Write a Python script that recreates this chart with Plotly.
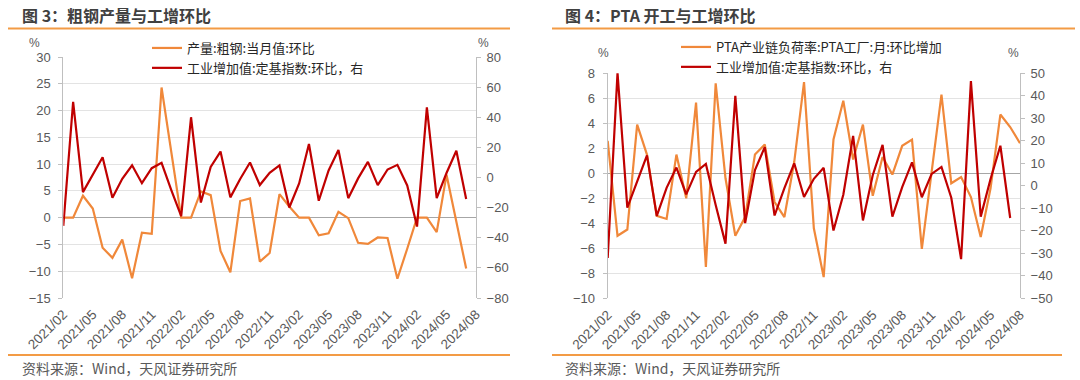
import plotly.graph_objects as go

# ---------------- data ----------------
months = [f"{y}/{m:02d}" for y in range(2021, 2025) for m in range(1, 13)][1:44]  # 2021/02 .. 2024/08
tick_labels = ["2021/02", "2021/05", "2021/08", "2021/11", "2022/02", "2022/05", "2022/08",
               "2022/11", "2023/02", "2023/05", "2023/08", "2023/11", "2024/02", "2024/05", "2024/08"]

# 产量:粗钢:当月值:环比 (%), 2021/02 .. 2024/07
steel_output_mom = [0, 0, 4.1, 1.7, -5.6, -7.5, -4.1, -11.3, -2.8, -3.0,
                    24.3, 12.0, 0, 0, 4.9, 4.2, -6.2, -10.2, 3.1, 3.6,
                    -8.2, -6.6, 4.4, 2.1, 0, 0, -3.3, -2.9, 1.1, -0.1,
                    -4.7, -4.9, -3.7, -3.8, -11.4, -5.8, 0, 0, -2.7, 8.0,
                    -0.9, -9.5]

# 工业增加值:定基指数:环比 (%), 2021/02 .. 2024/07
ind_va_mom = [-32.1, 50.2, -9.7, 1.6, 13.5, -13.4, -0.9, 8.1, -3.8, 6.2,
              9.7, -8.5, -25.7, 40.0, -16.6, 7.0, 17.2, -13.2, -1.0, 10.0,
              -5.0, 3.1, 8.0, -19.9, -4.0, 22.2, -15.4, 4.7, 18.2, -13.7,
              -0.6, 10.4, -5.1, 5.3, 8.4, -5.3, -32.6, 46.5, -13.7, 3.0,
              17.8, -14.3]

# PTA产业链负荷率:PTA工厂:月:环比增加 (%), 2021/02 .. 2024/08
pta_load_mom = [2.6, -5.0, -4.5, 3.9, 1.5, -3.4, -3.65, 1.5, -2.0, 5.65,
                -7.5, 7.2, -0.4, -5.0, -3.5, 1.5, 2.3, -2.3, -3.5, 0.9,
                7.3, -4.4, -8.3, 2.7, 5.8, 1.1, 3.9, -1.8, 1.3, -0.1,
                2.2, 2.7, -6.05, 0.1, 6.3, -0.8, -0.3, -1.9, -5.1, -1.2,
                4.7, 3.7, 2.4]

# ---------------- style ----------------
W, H = 1080, 380
FONT = "Liberation Sans, Noto Sans CJK SC, sans-serif"
CJK = "Noto Sans CJK SC, Liberation Sans, sans-serif"
ORANGE = "#F0883A"
RED = "#C00000"
ACCENT = "#F39B45"
GRID = "#E3E3E3"
AXIS = "#BFBFBF"
ZERO = "#A6A6A6"
TICKC = "#595959"


def px_x(x):
    return x / W


def px_y(y):
    return 1 - y / H


fig = go.Figure()

fig.add_trace(go.Scatter(x=months[:len(steel_output_mom)], y=steel_output_mom,
                         name="产量:粗钢:当月值:环比", mode="lines",
                         line=dict(color=ORANGE, width=2.2), xaxis="x", yaxis="y", legend="legend"))
fig.add_trace(go.Scatter(x=months[:len(ind_va_mom)], y=ind_va_mom,
                         name="工业增加值:定基指数:环比，右", mode="lines",
                         line=dict(color=RED, width=2.2), xaxis="x", yaxis="y2", legend="legend"))
fig.add_trace(go.Scatter(x=months[:len(pta_load_mom)], y=pta_load_mom,
                         name="PTA产业链负荷率:PTA工厂:月:环比增加", mode="lines",
                         line=dict(color=ORANGE, width=2.2), xaxis="x2", yaxis="y3", legend="legend2"))
fig.add_trace(go.Scatter(x=months[:len(ind_va_mom)], y=ind_va_mom,
                         name="工业增加值:定基指数:环比，右", mode="lines",
                         line=dict(color=RED, width=2.2), xaxis="x2", yaxis="y4", legend="legend2"))

# plot areas (pixels)
L = dict(x0=63.3, x1=476.0, y0=57.0, y1=298.0, lo=-15, hi=30, dt=5, rlo=-80, rhi=80, rdt=20)
R = dict(x0=607.7, x1=1020.0, y0=73.3, y1=298.3, lo=-10, hi=8, dt=2, rlo=-50, rhi=50, rdt=10)

tickfont = dict(family=FONT, size=13, color=TICKC)
xtickfont = dict(family=FONT, size=13.5, color=TICKC)
n = len(months)


def xcat(dom):
    return dict(domain=dom, type="category", categoryorder="array", categoryarray=months,
                range=[0, n - 1], tickmode="array", tickvals=tick_labels, ticktext=tick_labels,
                tickangle=-45, tickfont=xtickfont, showgrid=False, showline=False, zeroline=False,
                ticks="", automargin=False, fixedrange=True, ticklabelstandoff=5)


def yleft(dom, P):
    return dict(domain=dom, range=[P["lo"], P["hi"]], dtick=P["dt"], tick0=0, showgrid=True,
                gridcolor=GRID, gridwidth=1, zeroline=True, zerolinecolor=ZERO, zerolinewidth=1,
                showline=True, linecolor=AXIS, linewidth=1, ticks="outside", ticklen=4,
                tickcolor=AXIS, tickfont=tickfont, automargin=False, tickformat="d",
                ticklabelstandoff=5)


def yright(P, over, anchor):
    return dict(overlaying=over, anchor=anchor, side="right", range=[P["rlo"], P["rhi"]],
                dtick=P["rdt"], tick0=0, showgrid=False, zeroline=False, showline=True,
                linecolor=AXIS, linewidth=1, ticks="outside", ticklen=4, tickcolor=AXIS,
                tickfont=tickfont, automargin=False, tickformat="d", ticklabelstandoff=3)


def zero_ticks(over, P, dom):
    pos = dom[0] + (0 - P["lo"]) / (P["hi"] - P["lo"]) * (dom[1] - dom[0])
    return dict(overlaying=over, anchor="free", position=pos, range=[0, n - 1],
                tickmode="array", tickvals=list(range(0, n, 3)), showticklabels=False,
                ticks="outside", ticklen=4, tickcolor=ZERO, showgrid=False, showline=False,
                zeroline=False, automargin=False)


Ldx = [px_x(L["x0"]), px_x(L["x1"])]
Ldy = [px_y(L["y1"]), px_y(L["y0"])]
Rdx = [px_x(R["x0"]), px_x(R["x1"])]
Rdy = [px_y(R["y1"]), px_y(R["y0"])]

layout = dict(
    width=W, height=H, autosize=False,
    margin=dict(l=0, r=0, t=0, b=0, pad=0),
    paper_bgcolor="white", plot_bgcolor="white",
    font=dict(family=FONT, size=13, color=TICKC),
    xaxis=xcat(Ldx), yaxis=yleft(Ldy, L), yaxis2=yright(L, "y", "x"),
    xaxis3=zero_ticks("x", L, Ldy),
    xaxis2=dict(xcat(Rdx), anchor="y3"), yaxis3=dict(yleft(Rdy, R), anchor="x2"),
    yaxis4=yright(R, "y3", "x2"),
    xaxis4=zero_ticks("x2", R, Rdy),
    legend=dict(x=px_x(147), y=px_y(33), xanchor="left", yanchor="top",
                bgcolor="rgba(0,0,0,0)", font=dict(family=CJK, size=13, color="#262626"),
                itemwidth=30, tracegroupgap=0),
    legend2=dict(x=px_x(676), y=px_y(32), xanchor="left", yanchor="top",
                 bgcolor="rgba(0,0,0,0)", font=dict(family=CJK, size=13, color="#262626"),
                 itemwidth=30, tracegroupgap=0),
    showlegend=True,
)
fig.update_layout(**layout)

# ---------------- decorations ----------------
ann = []
def text(x, y, s, size, color, xanchor="left", bold=False, family=CJK):
    ann.append(dict(x=px_x(x), y=px_y(y), xref="paper", yref="paper", text=f"<b>{s}</b>" if bold else s,
                    showarrow=False, xanchor=xanchor, yanchor="middle",
                    font=dict(family=family, size=size, color=color)))

text(20, 15, "图 3：粗钢产量与工增环比", 16, "#404040", bold=True)
text(563, 15, "图 4：PTA 开工与工增环比", 16, "#404040", bold=True)
text(20, 368, "资料来源：Wind，天风证券研究所", 14, "#595959")
text(563, 368, "资料来源：Wind，天风证券研究所", 14, "#595959")
text(34, 43, "%", 12, TICKC, xanchor="center", family=FONT)
text(483, 43, "%", 12, TICKC, xanchor="center", family=FONT)
text(603, 53, "%", 12, TICKC, xanchor="center", family=FONT)
text(1013, 53, "%", 12, TICKC, xanchor="center", family=FONT)

shapes = []
for (xa, xb, y) in [(8, 510, 28.5), (552, 1075, 28.5), (8, 510, 355), (552, 1062, 355)]:
    shapes.append(dict(type="line", xref="paper", yref="paper", x0=px_x(xa), x1=px_x(xb),
                       y0=px_y(y), y1=px_y(y), line=dict(color=ACCENT, width=2)))

fig.update_layout(annotations=ann, shapes=shapes)
fig.write_html("out.html", config={"displayModeBar": False, "staticPlot": True},
               post_script="document.body.style.margin='0';document.body.style.padding='0';"
                           "document.documentElement.style.margin='0';")
